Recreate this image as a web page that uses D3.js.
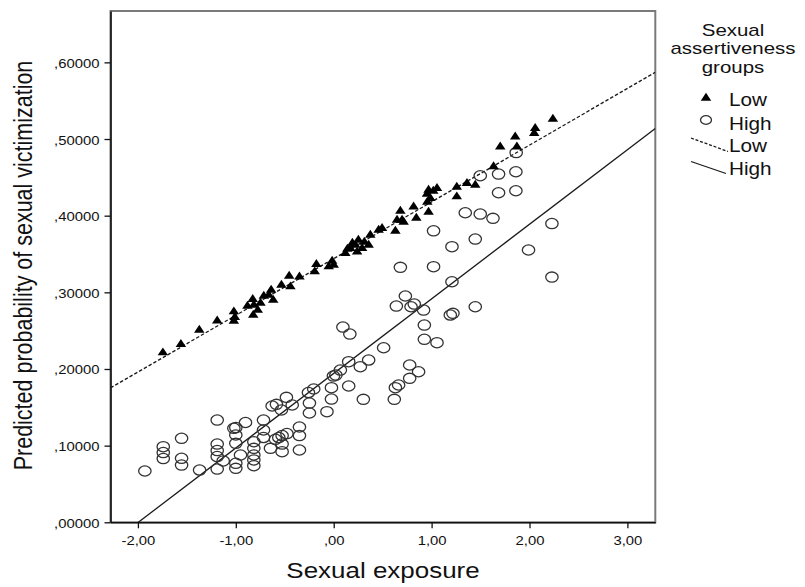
<!DOCTYPE html>
<html>
<head>
<meta charset="utf-8">
<script src="https://cdn.jsdelivr.net/npm/d3@7/dist/d3.min.js"></script>
<style>
  body { margin: 0; background: #fff; }
  text { font-family: "Liberation Sans", Arial, sans-serif; fill: #111; }
</style>
</head>
<body>
<svg id="svg" width="805" height="587"></svg>
<script>
// Low sexual assertiveness group (triangles)
const lowExposure = [-1.745, -1.561, -1.373, -1.190, -1.020, -1.010, -1.020, -0.827, -0.816, -0.776,
	-0.822, -0.714, -0.663, -0.639, -0.618, -0.534, -0.442, -0.455, -0.350, -0.177,
	-0.194, -0.051, -0.016, 0.000, 0.119, 0.170, 0.221, 0.239, 0.290, 0.357,
	0.374, 0.459, 0.494, 0.630, 0.647, 0.681, 0.698, 0.714, 0.816, 0.844,
	0.969, 0.953, 0.987, 0.969, 1.055, 1.257, 1.257, 1.361, 1.446, 1.633,
	1.701, 1.854, 1.871, 2.058, 2.048, 2.239, -0.881, -0.748, 0.140, 0.191,
	0.313, 0.252, 1.017, 0.956]
const lowProb = [0.2212, 0.2322, 0.2508, 0.2629, 0.2747, 0.2674, 0.2626, 0.2909, 0.2834, 0.2769,
	0.2704, 0.2952, 0.2965, 0.3030, 0.2900, 0.3095, 0.3073, 0.3213, 0.3203, 0.3365,
	0.3269, 0.3334, 0.3408, 0.3356, 0.3509, 0.3574, 0.3617, 0.3529, 0.3574, 0.3617,
	0.3747, 0.3812, 0.3835, 0.3799, 0.3943, 0.4060, 0.3943, 0.3917, 0.4116, 0.3969,
	0.4047, 0.4282, 0.4226, 0.4334, 0.4356, 0.4373, 0.4247, 0.4422, 0.4399, 0.4641,
	0.4899, 0.5029, 0.4899, 0.5139, 0.5074, 0.5260, 0.2821, 0.2860, 0.3565, 0.3643,
	0.3656, 0.3682, 0.4321, 0.4178]

// High sexual assertiveness group (circles)
const highExposure = [-1.929, -1.741, -1.741, -1.741, -1.554, -1.554, -1.554, -1.370, -1.190, -1.190,
	-1.190, -1.190, -1.190, -1.129, -1.020, -1.000, -1.000, -1.000, -1.000, -1.000,
	-0.952, -0.901, -0.816, -0.816, -0.816, -0.816, -0.816, -0.717, -0.717, -0.717,
	-0.646, -0.629, -0.585, -0.534, -0.483, -0.424, -0.595, -0.561, -0.527, -0.527,
	-0.527, -0.478, -0.350, -0.350, -0.350, -0.258, -0.248, -0.248, -0.204, -0.069,
	-0.023, -0.023, -0.003, 0.022, 0.068, 0.094, 0.165, 0.153, 0.153, 0.272,
	0.303, 0.357, 0.510, 0.619, 0.630, 0.663, 0.776, 0.867, 0.776, 0.640,
	0.732, 0.790, 0.823, 0.918, 0.926, 0.926, 1.055, 1.191, 1.218, 1.446,
	0.681, 1.020, 1.208, 1.020, 1.208, 1.446, 1.344, 1.497, 1.627, 1.497,
	1.684, 1.861, 1.684, 1.861, 1.864, 1.990, 2.229, 2.229]
const highProb = [0.0669, 0.0986, 0.0910, 0.0832, 0.1096, 0.0835, 0.0747, 0.0682, 0.1334, 0.1021,
	0.0936, 0.0858, 0.0695, 0.0800, 0.1226, 0.1236, 0.1139, 0.1030, 0.0770, 0.0704,
	0.0878, 0.1302, 0.1051, 0.0965, 0.0878, 0.0813, 0.0738, 0.1334, 0.1204, 0.1106,
	0.0965, 0.1517, 0.1539, 0.1465, 0.1630, 0.1530, 0.1083, 0.1106, 0.1132, 0.1021,
	0.0921, 0.1158, 0.1243, 0.1132, 0.0943, 0.1693, 0.1556, 0.1426, 0.1739, 0.1443,
	0.1608, 0.1756, 0.1908, 0.1921, 0.1986, 0.2547, 0.2456, 0.2095, 0.1778, 0.2030,
	0.1604, 0.2117, 0.2277, 0.1604, 0.1756, 0.1791, 0.1878, 0.1964, 0.2052, 0.2821,
	0.2952, 0.2812, 0.2847, 0.2769, 0.2573, 0.2387, 0.2343, 0.2704, 0.2726, 0.2812,
	0.3326, 0.3334, 0.3138, 0.3803, 0.3595, 0.3695, 0.4038, 0.4021, 0.3965, 0.4521,
	0.4543, 0.4573, 0.4299, 0.4325, 0.4823, 0.3552, 0.3897, 0.3199]

// linear fit lines per group: [Low, High]
const fitGroups = ['Low', 'High']
const fitIntercepts = [0.344, 0.1942]
const fitSlopes = [0.0740, 0.0973]

const xTicks = [-2, -1, 0, 1, 2, 3]
const xTickLabels = ['-2,00', '-1,00', ',00', '1,00', '2,00', '3,00']
const yTicks = [0, 0.1, 0.2, 0.3, 0.4, 0.5, 0.6]
const yTickLabels = [',00000', ',10000', ',20000', ',30000', ',40000', ',50000', ',60000']

const legendTitle = ['Sexual', 'assertiveness', 'groups']

const $svg = d3.select('#svg')
const plot = { left: 110.5, right: 655.3, top: 11, bottom: 522.3 }

const x = d3.scaleLinear().domain([-2.28, 3.285]).range([plot.left, plot.right])
const y = d3.scaleLinear().domain([0, 0.667]).range([plot.bottom, plot.top])

// clip for fit lines
$svg.append('clipPath').attr('id', 'clip')
	.append('rect')
	.attr('x', plot.left).attr('y', plot.top)
	.attr('width', plot.right - plot.left).attr('height', plot.bottom - plot.top)

// frame
$svg.append('rect')
	.attr('x', plot.left).attr('y', plot.top)
	.attr('width', plot.right - plot.left).attr('height', plot.bottom - plot.top)
	.attr('fill', 'none').attr('stroke', '#7a7a7a').attr('stroke-width', 2)

// axes
const stretch = 1.1
const yAxis = $svg.append('g')
	.attr('transform', `translate(${plot.left},0)`)
	.call(d3.axisLeft(y).tickValues(yTicks).tickSize(6).tickSizeOuter(0)
		.tickFormat((d, i) => yTickLabels[i]))
yAxis.select('.domain').attr('stroke', '#111').attr('stroke-width', 1.6)
yAxis.selectAll('.tick line').attr('stroke', '#111').attr('stroke-width', 1.3)
yAxis.selectAll('.tick text')
	.attr('x', null).attr('dy', null)
	.attr('font-size', 13.5)
	.attr('font-family', '"Liberation Sans", Arial, sans-serif')
	.attr('fill', '#222')
	.attr('transform', `translate(-11,5) scale(${stretch},1)`)

const xAxis = $svg.append('g')
	.attr('transform', `translate(0,${plot.bottom})`)
	.call(d3.axisBottom(x).tickValues(xTicks).tickSize(6).tickSizeOuter(0)
		.tickFormat((d, i) => xTickLabels[i]))
xAxis.select('.domain').attr('stroke', '#111').attr('stroke-width', 1.6)
xAxis.selectAll('.tick line').attr('stroke', '#111').attr('stroke-width', 1.3)
xAxis.selectAll('.tick text')
	.attr('y', null).attr('dy', null)
	.attr('font-size', 13.5)
	.attr('font-family', '"Liberation Sans", Arial, sans-serif')
	.attr('fill', '#222')
	.attr('transform', `translate(0,23) scale(${stretch},1)`)

// axis titles
$svg.append('text')
	.attr('text-anchor', 'middle')
	.attr('font-size', 22)
	.attr('transform', `translate(383,578) scale(1.18,1)`)
	.text('Sexual exposure')

$svg.append('text')
	.attr('text-anchor', 'middle')
	.attr('font-size', 21.5)
	.attr('transform', `translate(31.5,265.5) rotate(-90) scale(1,1.18)`)
	.text('Predicted probability of sexual victimization')

// fit lines
const fitLine = (i) => d3.line()
	.x(d => x(d))
	.y(d => y(fitIntercepts[i] + fitSlopes[i] * d))(x.domain())

$svg.append('g').attr('clip-path', 'url(#clip)')
	.selectAll('path')
	.data(fitGroups)
	.join('path')
	.attr('d', (d, i) => fitLine(i))
	.attr('fill', 'none')
	.attr('stroke', '#1a1a1a')
	.attr('stroke-width', 1.3)
	.attr('stroke-dasharray', d => d === 'Low' ? '3.5,2' : null)

// points
const triangle = d3.symbol(d3.symbolTriangle, 36)()

$svg.append('g')
	.selectAll('ellipse')
	.data(d3.range(highExposure.length))
	.join('ellipse')
	.attr('cx', i => x(highExposure[i]))
	.attr('cy', i => y(highProb[i]))
	.attr('rx', 6.2)
	.attr('ry', 5.1)
	.attr('fill', 'none')
	.attr('stroke', '#333')
	.attr('stroke-width', 1.3)

$svg.append('g')
	.selectAll('path')
	.data(d3.range(lowExposure.length))
	.join('path')
	.attr('d', triangle)
	.attr('transform', i => `translate(${x(lowExposure[i])},${y(lowProb[i])}) scale(1.15,1)`)
	.attr('fill', '#000')

// legend
const legend = $svg.append('g')
legend.selectAll('text.title')
	.data(legendTitle)
	.join('text')
	.attr('class', 'title')
	.attr('text-anchor', 'middle')
	.attr('font-size', 15.5)
	.attr('fill', '#333')
	.attr('transform', (d, i) => `translate(733,${35.5 + i * 18.5}) scale(1.32,1.04)`)
	.text(d => d)

const legendRows = [
	{ label: 'Low', y: 105.5 },
	{ label: 'High', y: 129.5 },
	{ label: 'Low', y: 151.5 },
	{ label: 'High', y: 175 }
]
legend.selectAll('text.item')
	.data(legendRows)
	.join('text')
	.attr('class', 'item')
	.attr('font-size', 18.5)
	.attr('fill', '#222')
	.attr('transform', d => `translate(729,${d.y}) scale(1.12,1)`)
	.text(d => d.label)

legend.append('path')
	.attr('d', triangle)
	.attr('transform', 'translate(706,98) scale(1.15,1)')
	.attr('fill', '#000')
legend.append('ellipse')
	.attr('cx', 706).attr('cy', 120).attr('rx', 5.5).attr('ry', 4.3)
	.attr('fill', 'none').attr('stroke', '#333').attr('stroke-width', 1.3)
legend.append('line')
	.attr('x1', 691).attr('y1', 138).attr('x2', 728).attr('y2', 151.5)
	.attr('stroke', '#1a1a1a').attr('stroke-width', 1.3).attr('stroke-dasharray', '3,1.8')
legend.append('line')
	.attr('x1', 691).attr('y1', 161.5).attr('x2', 726).attr('y2', 173.5)
	.attr('stroke', '#1a1a1a').attr('stroke-width', 1.3)
</script>
</body>
</html>
